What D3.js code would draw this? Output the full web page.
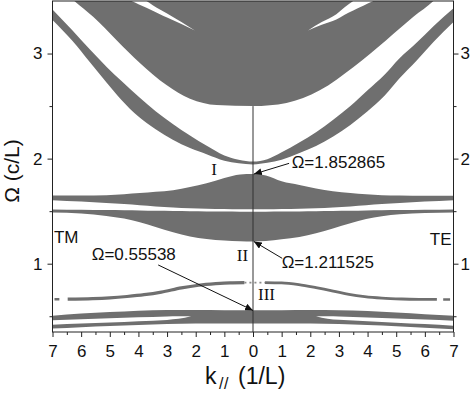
<!DOCTYPE html>
<html><head><meta charset="utf-8">
<script src="https://cdn.jsdelivr.net/npm/d3@7"></script>
<style>html,body{margin:0;padding:0;background:#fff;} svg{display:block;}</style>
</head><body>
<svg id="chart" width="474" height="394"></svg>
<script>
// ---------------- data (k in 1/L, Ω in c/L) ----------------
const kMajorTicks = [-7,-6,-5,-4,-3,-2,-1,0,1,2,3,4,5,6,7];
const kTickLabels = ["7","6","5","4","3","2","1","0","1","2","3","4","5","6","7"];
const kMinorTicks = [-6.5,-5.5,-4.5,-3.5,-2.5,-1.5,-0.5,0.5,1.5,2.5,3.5,4.5,5.5,6.5];
const omegaMajorTicks = [1,2,3];
const omegaMinorTicks = [0.5,1.5,2.5];

// Band A (top, wide) lower edge; it extends past the top of the frame
const bandA_TM_k  = [0,1.27,2.2,3.02,3.95,4.77,5.58,6.28,7];
const bandA_TM_lo = [2.50,2.51,2.57,2.70,2.91,3.13,3.35,3.51,3.70];
const bandA_TE_k  = [0,1.17,2.33,3.5,4.66,5.6,6.3,7];
const bandA_TE_lo = [2.50,2.53,2.65,2.87,3.13,3.35,3.50,3.70];
const bandA_ceiling = 3.8;

// white sliver inside band A
const sliver_TM_k  = [2.03,2.5,3.0,3.25,3.5,3.72,4.0,4.24,4.5];
const sliver_TM_hi = [3.22,3.30,3.38,3.42,3.46,3.50,3.545,3.585,3.63];
const sliver_TM_lo = [3.22,3.28,3.343,3.375,3.407,3.435,3.47,3.50,3.535];
const sliver_TE_k  = [1.92,2.4,2.91,3.2,3.5,3.85,4.2,4.5];
const sliver_TE_hi = [3.22,3.30,3.375,3.44,3.50,3.56,3.62,3.67];
const sliver_TE_lo = [3.22,3.275,3.325,3.37,3.41,3.455,3.50,3.537];

// Band B (thin diagonal band)
const bandB_k     = [0,0.5,1,1.6,2.2,2.8,3.4,4.0,4.6,5.1,5.7,6.3,7];
const bandB_TM_hi = [1.972,1.99,2.03,2.12,2.22,2.33,2.45,2.59,2.74,2.87,3.04,3.22,3.42];
const bandB_TM_lo = [1.945,1.955,1.98,2.04,2.10,2.18,2.28,2.40,2.56,2.72,2.92,3.12,3.32];
const bandB_TE_hi = [1.972,1.995,2.06,2.15,2.25,2.37,2.50,2.65,2.80,2.95,3.10,3.26,3.43];
const bandB_TE_lo = [1.945,1.96,1.99,2.05,2.12,2.21,2.32,2.45,2.60,2.76,2.93,3.11,3.30];

// Bands C (top at 1.852865) and D (bottom at 1.211525)
const bandCD_k    = [0,0.45,1,1.62,2.2,2.79,3.4,3.95,4.5,5.12,6,7];
const bandC_TM_hi = [1.853,1.85,1.815,1.765,1.73,1.70,1.685,1.672,1.662,1.652,1.648,1.648];
const bandC_TE_hi = [1.853,1.84,1.785,1.75,1.716,1.69,1.672,1.66,1.652,1.648,1.646,1.646];
const bandC_lo    = [1.518,1.518,1.52,1.523,1.528,1.535,1.545,1.556,1.567,1.578,1.592,1.605];
const bandD_hi    = [1.495,1.495,1.496,1.497,1.499,1.501,1.503,1.506,1.508,1.51,1.513,1.516];
const bandD_TM_lo = [1.2115,1.214,1.22,1.235,1.26,1.30,1.35,1.395,1.43,1.455,1.478,1.488];
const bandD_TE_lo = [1.2115,1.215,1.232,1.255,1.29,1.335,1.385,1.425,1.452,1.47,1.483,1.488];

// Curve III (thin band), centre line
const curve3_TM_k = [0.3,0.8,1.3,1.9,2.5,3.2,3.8,4.4,5.0,5.6,6.47];
const curve3_TM_w = [0.82,0.818,0.81,0.795,0.77,0.73,0.705,0.688,0.675,0.667,0.662];
const curve3_TE_k = [0.42,1.0,1.6,2.2,2.8,3.35,3.9,4.5,5.2,5.8,6.42];
const curve3_TE_w = [0.82,0.817,0.80,0.772,0.74,0.708,0.686,0.672,0.664,0.661,0.66];
const curve3_TM_dotK = [0,0.3];    const curve3_TM_dotW = [0.82,0.82];
const curve3_TE_dotK = [0.05,0.42]; const curve3_TE_dotW = [0.82,0.82];
const curve3_TM_endK = [6.76,6.93]; const curve3_TM_endW = [0.662,0.662];
const curve3_TE_endK = [6.64,6.88]; const curve3_TE_endW = [0.66,0.66];

// Band F (bottom, top at 0.55538) with white wedge splitting it at large k
const bandF_k     = [0,1,2,3,4,5,6,7];
const bandF_TM_hi = [0.556,0.558,0.56,0.56,0.553,0.54,0.525,0.505];
const bandF_TM_lo = [0.43,0.43,0.43,0.425,0.417,0.407,0.395,0.383];
const bandF_TE_hi = [0.556,0.558,0.56,0.557,0.55,0.535,0.52,0.505];
const bandF_TE_lo = [0.43,0.43,0.43,0.425,0.416,0.405,0.39,0.375];
const wedge_TM_k  = [2.16,2.6,3,4,5,6,7];
const wedge_TM_hi = [0.50,0.50,0.498,0.49,0.482,0.472,0.462];
const wedge_TM_lo = [0.50,0.475,0.465,0.452,0.44,0.43,0.42];
const wedge_TE_k  = [2.2,2.6,3,4,5,6,7];
const wedge_TE_hi = [0.50,0.50,0.497,0.488,0.478,0.468,0.458];
const wedge_TE_lo = [0.50,0.476,0.466,0.452,0.438,0.425,0.41];

// k = 0 line
const centerLineW = [0.35, 2.5];

// annotations (signed k: TM < 0 < TE)
const annoLabels = ["Ω=1.852865","Ω=1.211525","Ω=0.55538"];
const annoTextK  = [1.35, 1.0, -5.63];
const annoTextW  = [1.911, 0.959, 1.035];
const annoFromK  = [1.26, 1.02, -3.31];
const annoFromW  = [1.955, 1.051, 0.988];
const annoToK    = [0.03, 0.03, 0];
const annoToW    = [1.852865, 1.211525, 0.55538];
const romanLabels = ["I","II","III"];
const romanK = [-1.36, -0.37, 0.47];
const romanW = [1.844, 1.026, 0.6545];
const sideLabels = ["TM","TE"];
const sideK = [-6.95, 6.93];
const sideW = [1.197, 1.178];

// ---------------- drawing ----------------
const svg = d3.select("#chart");
const x = d3.scaleLinear().domain([-7,7]).range([52.5,453.5]);
const y = d3.scaleLinear().domain([0.35,3.5]).range([332,1]);
const GRAY = "#6f6f6f";
const SANS = "'Liberation Sans', Arial, sans-serif";
const SERIF = "'Liberation Serif', 'Times New Roman', serif";

const defs = svg.append("defs");
defs.append("clipPath").attr("id","plotclip").append("rect")
  .attr("x", x(-7)).attr("y", y(3.5)).attr("width", x(7)-x(-7)).attr("height", y(0.35)-y(3.5));
defs.append("marker").attr("id","arr").attr("markerUnits","userSpaceOnUse")
  .attr("markerWidth",9).attr("markerHeight",7).attr("refX",8).attr("refY",3.5)
  .attr("orient","auto")
  .append("path").attr("d","M0,0 L8,3.5 L0,7 Z").attr("fill","#111");

function merge(kTM, loTM, hiTM, kTE, loTE, hiTE) {
  const pts = [];
  for (let i = kTM.length-1; i >= 0; i--) if (kTM[i] > 0)
    pts.push({k:-kTM[i], lo:loTM[i], hi: hiTM ? hiTM[i] : bandA_ceiling});
  for (let i = 0; i < kTE.length; i++)
    pts.push({k:kTE[i], lo:loTE[i], hi: hiTE ? hiTE[i] : bandA_ceiling});
  return pts;
}
function side(sign, ks, lo, hi) {
  return ks.map((k,i)=>({k:sign*k, lo:lo[i], hi:hi[i]})).sort((a,b)=>a.k-b.k);
}
const area = d3.area().x(d=>x(d.k)).y0(d=>y(d.lo)).y1(d=>y(d.hi)).curve(d3.curveMonotoneX);
const line = d3.line().x(d=>x(d.k)).y(d=>y(d.w)).curve(d3.curveMonotoneX);

const plot = svg.append("g").attr("clip-path","url(#plotclip)");

// gray bands
const grayBands = [
  merge(bandA_TM_k, bandA_TM_lo, null, bandA_TE_k, bandA_TE_lo, null),
  merge(bandB_k, bandB_TM_lo, bandB_TM_hi, bandB_k, bandB_TE_lo, bandB_TE_hi),
  merge(bandCD_k, bandC_lo, bandC_TM_hi, bandCD_k, bandC_lo, bandC_TE_hi),
  merge(bandCD_k, bandD_TM_lo, bandD_hi, bandCD_k, bandD_TE_lo, bandD_hi),
  merge(bandF_k, bandF_TM_lo, bandF_TM_hi, bandF_k, bandF_TE_lo, bandF_TE_hi)
];
plot.selectAll("path.band").data(grayBands).join("path")
  .attr("class","band").attr("d", area).attr("fill", GRAY);

// white gaps inside bands
const holes = [
  side(-1, sliver_TM_k, sliver_TM_lo, sliver_TM_hi),
  side( 1, sliver_TE_k, sliver_TE_lo, sliver_TE_hi),
  side(-1, wedge_TM_k, wedge_TM_lo, wedge_TM_hi),
  side( 1, wedge_TE_k, wedge_TE_lo, wedge_TE_hi)
];
plot.selectAll("path.hole").data(holes).join("path")
  .attr("class","hole").attr("d", area).attr("fill", "#fff");

// curve III
const toPts = (sign, ks, ws) => ks.map((k,i)=>({k:sign*k, w:ws[i]})).sort((a,b)=>a.k-b.k);
plot.append("path").attr("d", line(toPts(-1, curve3_TM_k, curve3_TM_w)))
  .attr("fill","none").attr("stroke",GRAY).attr("stroke-width",3.2);
plot.append("path").attr("d", line(toPts(1, curve3_TE_k, curve3_TE_w)))
  .attr("fill","none").attr("stroke",GRAY).attr("stroke-width",2.8);
[[ -1, curve3_TM_dotK, curve3_TM_dotW], [1, curve3_TE_dotK, curve3_TE_dotW]].forEach(([s,ks,ws])=>{
  plot.append("path").attr("d", d3.line().x(d=>x(d.k)).y(d=>y(d.w))(toPts(s,ks,ws)))
    .attr("stroke","#8c8c8c").attr("stroke-width",1.6).attr("stroke-dasharray","2,3").attr("fill","none");
});
[[ -1, curve3_TM_endK, curve3_TM_endW], [1, curve3_TE_endK, curve3_TE_endW]].forEach(([s,ks,ws])=>{
  plot.append("path").attr("d", d3.line().x(d=>x(d.k)).y(d=>y(d.w))(toPts(s,ks,ws)))
    .attr("stroke",GRAY).attr("stroke-width",2.6).attr("fill","none");
});

// k = 0 line
plot.append("line").attr("x1",x(0)).attr("x2",x(0))
  .attr("y1",y(centerLineW[0])).attr("y2",y(centerLineW[1]))
  .attr("stroke","#333").attr("stroke-width",1);

// annotations
const ann = svg.append("g");
annoLabels.forEach((t,i)=>{
  ann.append("line")
    .attr("x1",x(annoFromK[i])).attr("y1",y(annoFromW[i]))
    .attr("x2",x(annoToK[i])).attr("y2",y(annoToW[i]))
    .attr("stroke","#111").attr("stroke-width",1).attr("marker-end","url(#arr)");
  ann.append("text").attr("x",x(annoTextK[i])).attr("y",y(annoTextW[i]))
    .attr("font-family",SANS).attr("font-size",17).attr("fill","#111").text(t);
});
romanLabels.forEach((t,i)=>{
  ann.append("text").attr("x",x(romanK[i])).attr("y",y(romanW[i]))
    .attr("text-anchor","middle").attr("font-family",SERIF).attr("font-size",17)
    .attr("fill","#111").text(t);
});
sideLabels.forEach((t,i)=>{
  ann.append("text").attr("x",x(sideK[i])).attr("y",y(sideW[i]))
    .attr("text-anchor", i===0 ? "start" : "end").attr("font-family",SANS).attr("font-size",17)
    .attr("fill","#111").text(t);
});

// axes
function styleAxis(sel){
  sel.select(".domain").remove();
  sel.selectAll("line").attr("stroke","#222");
  sel.selectAll("text").attr("font-family",SANS).attr("font-size",17).attr("fill","#111");
}
svg.append("g").attr("transform",`translate(0,${y(0.35)})`)
  .call(d3.axisBottom(x).tickValues(kMajorTicks).tickFormat((d,i)=>kTickLabels[i]).tickSize(5).tickPadding(8))
  .call(styleAxis);
svg.append("g").attr("transform",`translate(0,${y(0.35)})`)
  .call(d3.axisBottom(x).tickValues(kMinorTicks).tickFormat("").tickSize(3))
  .call(styleAxis);
svg.append("g").attr("transform",`translate(${x(-7)},0)`)
  .call(d3.axisLeft(y).tickValues(omegaMajorTicks).tickFormat(d3.format("d")).tickSize(5).tickPadding(5))
  .call(styleAxis);
svg.append("g").attr("transform",`translate(${x(-7)},0)`)
  .call(d3.axisLeft(y).tickValues(omegaMinorTicks).tickFormat("").tickSize(3))
  .call(styleAxis);
svg.append("g").attr("transform",`translate(${x(7)},0)`)
  .call(d3.axisRight(y).tickValues(omegaMajorTicks).tickFormat(d3.format("d")).tickSize(5).tickPadding(2))
  .call(styleAxis);
svg.append("g").attr("transform",`translate(${x(7)},0)`)
  .call(d3.axisRight(y).tickValues(omegaMinorTicks).tickFormat("").tickSize(3))
  .call(styleAxis);

// frame
svg.append("rect").attr("x",x(-7)).attr("y",y(3.5)).attr("width",x(7)-x(-7)).attr("height",y(0.35)-y(3.5))
  .attr("fill","none").attr("stroke","#222").attr("stroke-width",1);

// axis titles
const xt = svg.append("text").attr("y",384).attr("font-family",SANS).attr("font-size",23).attr("fill","#111");
xt.append("tspan").attr("x",205).text("k");
xt.append("tspan").attr("x",219).attr("dy",5).attr("font-size",16).attr("letter-spacing",0.5).text("//");
xt.append("tspan").attr("x",238).attr("dy",-5).text("(1/L)");
svg.append("text").attr("transform","translate(19,171) rotate(-90)")
  .attr("text-anchor","middle").attr("font-family",SANS).attr("font-size",21).attr("fill","#111")
  .text("Ω (c/L)");
</script>
</body></html>
